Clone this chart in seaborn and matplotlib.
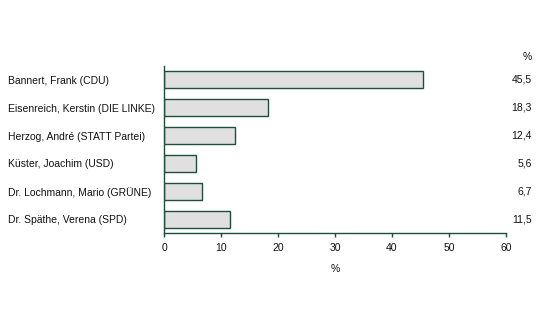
import matplotlib
matplotlib.use("Agg")
import matplotlib.pyplot as plt
import matplotlib.transforms as mtransforms
import seaborn as sns
import pandas as pd

candidates = ["Bannert, Frank (CDU)", "Eisenreich, Kerstin (DIE LINKE)", "Herzog, André (STATT Partei)",
              "Küster, Joachim (USD)", "Dr. Lochmann, Mario (GRÜNE)", "Dr. Späthe, Verena (SPD)"]
values = [45.5, 18.3, 12.4, 5.6, 6.7, 11.5]
value_labels = ["45,5", "18,3", "12,4", "5,6", "6,7", "11,5"]
xticks = [0, 10, 20, 30, 40, 50, 60]

sns.set_theme(style="white")
plt.rcParams['font.family'] = ['Liberation Sans', 'DejaVu Sans']
green = "#1e4d3a"
fs = 7.5

df = pd.DataFrame({"name": candidates, "value": values})
fig = plt.figure(figsize=(5.47, 3.17), dpi=100)
ax = fig.add_axes([164/547, 84/317, 342/547, 167/317])
sns.barplot(data=df, x="value", y="name", ax=ax, color="#e0e0e0", edgecolor=green,
            linewidth=1.0, width=0.61, saturation=1)
ax.set_xlim(0, 60)
ax.set_ylim(5.5, -0.5)
ax.set_xticks(xticks)
ax.set_xticklabels([str(t) for t in xticks], fontsize=fs, color="#111111")
ax.set_yticks(range(len(candidates)))
ax.set_yticklabels(candidates, fontsize=fs, ha="left", color="#111111")
ax.tick_params(axis="y", length=0, pad=(164 - 8) * 0.72)
ax.tick_params(axis="x", length=3, width=1, color=green, direction="out", pad=4.3, bottom=True)
for s in ["top", "right"]:
    ax.spines[s].set_visible(False)
for s in ["left", "bottom"]:
    ax.spines[s].set_color(green)
    ax.spines[s].set_linewidth(1.0)
ax.set_xlabel("%", fontsize=fs, labelpad=8, color="#111111")
ax.set_ylabel("")
tr = mtransforms.blended_transform_factory(fig.transFigure, ax.transData)
for i, lab in enumerate(value_labels):
    ax.text(532/547, i, lab, transform=tr, ha="right", va="center", fontsize=fs, color="#111111")
fig.text(532/547, 1 - 57/317, "%", ha="right", va="center", fontsize=fs, color="#111111")
fig.savefig("out.png", dpi=100, facecolor="white")
